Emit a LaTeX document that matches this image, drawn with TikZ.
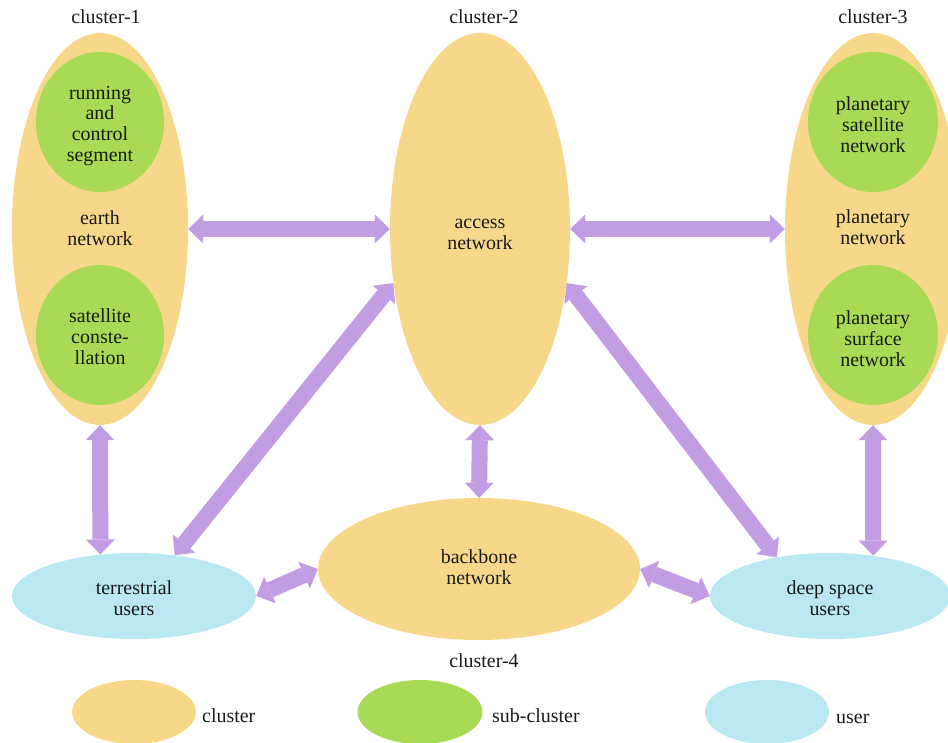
\documentclass[tikz,border=0pt]{standalone}
\usepackage{fontspec}
\setmainfont{Liberation Serif}
\usetikzlibrary{shapes.geometric,arrows.meta}
\definecolor{clus}{RGB}{247,216,139}
\definecolor{subc}{RGB}{168,218,85}
\definecolor{usrc}{RGB}{186,232,240}
\definecolor{arr}{RGB}{195,157,227}
\begin{document}
\begin{tikzpicture}[x=1bp,y=-1bp,
  every node/.style={font=\fontsize{20}{21}\selectfont, align=center, text=black!90},
  cl/.style={ellipse, fill=clus, inner sep=0pt},
  sub/.style={ellipse, fill=subc, inner sep=0pt, minimum width=128bp, minimum height=140bp},
  usr/.style={ellipse, fill=usrc, inner sep=0pt, minimum width=244bp, minimum height=86bp},
  txt/.style={inner sep=0pt},
  biarrow/.style={draw=arr, line width=16bp, {Triangle[width=29bp,length=15bp,line width=0pt]}-{Triangle[width=29bp,length=15bp,line width=0pt]}},
  lbl/.style={inner sep=0pt}]
\useasboundingbox (0,0) rectangle (948,743);
\clip (0,0) rectangle (948,743);
% clusters
\node[cl, minimum width=176bp, minimum height=392bp] (c1) at (100,229) {};
\node[txt, yshift=1bp] (c1t) at (c1.center) {earth\\network};
\node[sub] (rc) at (100,122) {};
\node[txt, yshift=-4bp] (rct) at (rc.center) {running\\and\\control\\segment};
\node[sub] (sc) at (100,335) {};
\node[txt, yshift=-2bp] (sct) at (sc.center) {satellite\\conste-\\llation};
\node[cl, minimum width=180bp, minimum height=392bp] (c2) at (480,229) {};
\node[txt, yshift=-5bp] (c2t) at (c2.center) {access\\network};
\node[cl, minimum width=176bp, minimum height=392bp] (c3) at (873,229) {};
\node[txt, yshift=2bp] (c3t) at (c3.center) {planetary\\network};
\node[sub, minimum width=130bp] (ps) at (873,122) {};
\node[txt, yshift=-3bp] (pst) at (ps.center) {planetary\\satellite\\network};
\node[sub, minimum width=130bp] (pf) at (873,335) {};
\node[txt, yshift=-4bp] (pft) at (pf.center) {planetary\\surface\\network};
\node[cl, minimum width=322bp, minimum height=142bp] (bb) at (479,569) {};
\node[txt, yshift=2bp] (bbt) at (bb.center) {backbone\\network};
\node[usr] (tu) at (134,596) {};
\node[txt, yshift=-2bp] (tut) at (tu.center) {terrestrial\\users};
\node[usr, minimum width=240bp] (du) at (830,596) {};
\node[txt, yshift=-2bp] (dut) at (du.center) {deep space\\users};
% cluster labels
\node[lbl] (l1) at (106,17) {cluster-1};
\node[lbl] (l2) at (484,17) {cluster-2};
\node[lbl] (l3) at (873,17) {cluster-3};
\node[lbl] (l4) at (484,661) {cluster-4};
% connectors
\draw[biarrow] (c1.east) -- (c2.west);
\draw[biarrow] (c2.east) -- (c3.west);
\draw[biarrow] (c1.south) -- (tu.129.5);
\draw[biarrow] (c2.south) -- (bb.north);
\draw[biarrow] (c3.south) -- (du.43);
\draw[biarrow] (tu.45) -- (c2.212);
\draw[biarrow] (c2.328) -- (du.144);
\draw[biarrow] (tu.east) -- (bb.west);
\draw[biarrow] (bb.east) -- (du.west);
% legend
\node[cl, minimum width=124bp, minimum height=64bp] (lc) at (134,712) {};
\node[lbl, anchor=west] (lct) at (202,716) {cluster};
\node[sub, minimum width=125bp, minimum height=64bp] (ls) at (420,712) {};
\node[lbl, anchor=west] (lst) at (492,716) {sub-cluster};
\node[usr, minimum width=124bp, minimum height=64bp] (lu) at (767,712) {};
\node[lbl, anchor=west] (lut) at (836,719) {user};
\end{tikzpicture}
\end{document}
